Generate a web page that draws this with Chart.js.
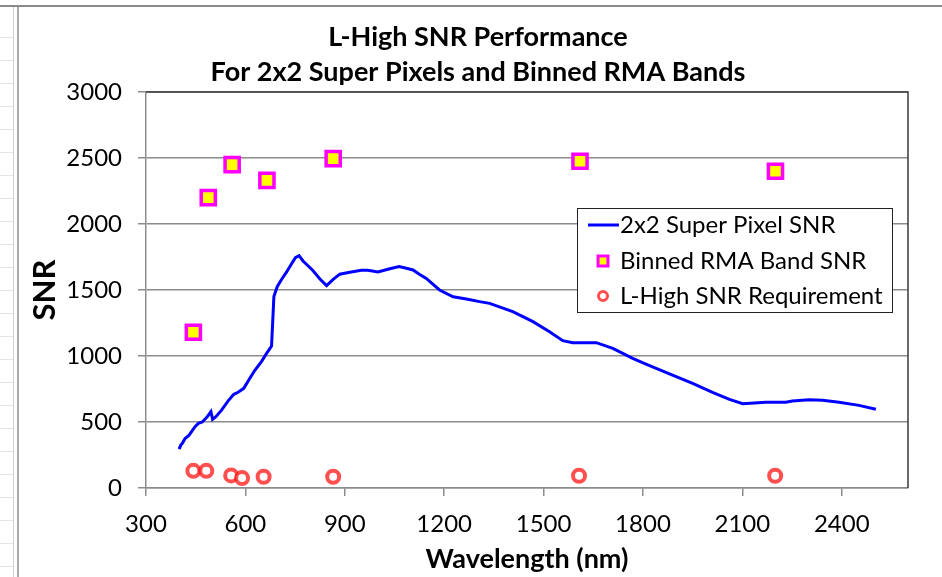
<!DOCTYPE html>
<html>
<head>
<meta charset="utf-8">
<script src="https://cdn.jsdelivr.net/npm/chart.js@4.4.1/dist/chart.umd.min.js"></script>
<style>
  html, body { margin: 0; padding: 0; background: #fff; }
  #wrap { position: relative; width: 942px; height: 577px; overflow: hidden; }
  .topline { position: absolute; left: 0; top: 5px; width: 942px; height: 2px; background: #8a8a8a; }
  .rows { position: absolute; left: 0; top: 15px; width: 13px; height: 562px;
          background: repeating-linear-gradient(to bottom, transparent 0, transparent 22px, #e4e4e4 22px, #e4e4e4 23px); }
  .vline1 { position: absolute; left: 13px; top: 7px; width: 1px; height: 570px; background: #cfcfcf; }
  .vline2 { position: absolute; left: 17px; top: 7px; width: 2px; height: 570px; background: #a8a8a8; }
  canvas { position: absolute; left: 0; top: 0; }
</style>
</head>
<body>
<div id="wrap">
  <div class="topline"></div>
  <div class="rows"></div>
  <div class="vline1"></div>
  <div class="vline2"></div>
  <canvas id="c" width="942" height="577"></canvas>
</div>
<script>
// values
const lineWl  = [400, 405, 410, 418, 430, 448, 458, 470, 485, 496, 501, 511, 528, 548, 565, 578, 595, 613, 628, 649, 664, 679,
                 686, 696, 709, 724, 739, 751, 762, 774, 803, 825, 845, 865, 885, 915, 950, 970, 1000, 1036, 1064, 1086,
                 1106, 1125, 1146, 1186, 1227, 1267, 1307, 1337, 1407, 1468, 1518, 1558, 1588, 1659, 1709, 1769, 1809,
                 1880, 1950, 2010, 2061, 2101, 2171, 2231, 2251, 2302, 2342, 2392, 2452, 2503];
const lineSnr = [295, 325, 340, 375, 400, 465, 490, 500, 540, 578, 520, 540, 590, 660, 710, 725, 755, 830, 890, 960, 1020, 1075,
                 1450, 1525, 1580, 1635, 1697, 1745, 1760, 1720, 1650, 1583, 1533, 1581, 1620, 1634, 1649, 1649, 1636, 1661, 1677, 1665,
                 1652, 1620, 1588, 1500, 1449, 1432, 1412, 1399, 1336, 1260, 1184, 1116, 1101, 1101, 1058, 982, 939,
                 864, 793, 725, 672, 638, 649, 649, 659, 669, 664, 649, 626, 596];

const bandWl  = [443, 488, 560, 665, 865, 1610, 2200];
const bandSnr = [1180, 2200, 2450, 2330, 2495, 2475, 2400];

const reqWl  = [443, 482, 557, 590, 655, 865, 1607, 2199];
const reqSnr = [130, 130, 95, 75, 85, 85, 93, 93];

const titleLines = ['L-High SNR Performance', 'For 2x2 Super Pixels and Binned RMA Bands'];
const seriesNames = ['2x2 Super Pixel SNR', 'Binned RMA Band SNR', 'L-High SNR Requirement'];

const FONT = 'Lato, "Noto Sans", sans-serif';

const toPts = (xs, ys) => xs.map((x, i) => ({ x: x, y: ys[i] }));

// plot border (top/right) and the boxed legend inside the plot
const boxLegend = {
  id: 'boxLegend',
  beforeDatasetsDraw(chart) {
    const { ctx, chartArea: a } = chart;
    ctx.save();
    ctx.strokeStyle = '#3a3a3a';
    ctx.lineWidth = 1.5;
    ctx.beginPath();
    ctx.moveTo(a.left, a.top);
    ctx.lineTo(a.right, a.top);
    ctx.lineTo(a.right, a.bottom);
    ctx.stroke();
    ctx.restore();
  },
  afterDraw(chart) {
    const { ctx, chartArea: a } = chart;
    const ds = chart.data.datasets;
    const bx = a.left + 431, by = a.top + 116, bw = 315, bh = 104;
    ctx.save();
    ctx.fillStyle = '#fff';
    ctx.fillRect(bx, by, bw, bh);
    ctx.strokeStyle = '#222';
    ctx.lineWidth = 1;
    ctx.strokeRect(bx + 0.5, by + 0.5, bw, bh);

    const rowY = [by + 17, by + 53, by + 88];
    const sx = bx + 26, tx = bx + 43;

    ctx.strokeStyle = ds[0].borderColor;
    ctx.lineWidth = 3;
    ctx.beginPath();
    ctx.moveTo(bx + 11, rowY[0]);
    ctx.lineTo(bx + 42, rowY[0]);
    ctx.stroke();

    ctx.fillStyle = ds[1].backgroundColor;
    ctx.strokeStyle = ds[1].borderColor;
    ctx.lineWidth = 3;
    Chart.helpers.drawPoint(ctx, { pointStyle: 'rect', radius: 7, borderWidth: 3 }, sx, rowY[1]);

    ctx.fillStyle = ds[2].backgroundColor;
    ctx.strokeStyle = ds[2].borderColor;
    ctx.lineWidth = 3;
    Chart.helpers.drawPoint(ctx, { pointStyle: 'circle', radius: 4.5, borderWidth: 3 }, sx, rowY[2]);

    ctx.fillStyle = '#000';
    ctx.font = '24px ' + FONT;
    ctx.textBaseline = 'middle';
    ctx.textAlign = 'left';
    ds.forEach((d, i) => ctx.fillText(d.label, tx, rowY[i]));
    ctx.restore();
  }
};

new Chart(document.getElementById('c'), {
  type: 'scatter',
  data: {
    datasets: [
      { label: seriesNames[0], data: toPts(lineWl, lineSnr), showLine: true, borderColor: '#0000ff',
        backgroundColor: '#0000ff', borderWidth: 3, pointRadius: 0, tension: 0 },
      { label: seriesNames[1], data: toPts(bandWl, bandSnr), pointStyle: 'rect', pointRadius: 10,
        borderColor: '#ff00ff', backgroundColor: '#ffff00', borderWidth: 3.5 },
      { label: seriesNames[2], data: toPts(reqWl, reqSnr), pointStyle: 'circle', pointRadius: 6,
        borderColor: 'rgba(255,20,20,0.75)', backgroundColor: '#ffffff', borderWidth: 4 }
    ]
  },
  options: {
    responsive: false,
    animation: false,
    layout: { padding: { left: 14, right: 0, top: 0, bottom: 0 } },
    plugins: {
      legend: { display: false },
      tooltip: { enabled: false },
      title: {
        display: true, text: titleLines, color: '#000',
        font: { family: FONT, size: 27, weight: 'bold', lineHeight: 35 / 27 },
        padding: { top: 20, bottom: 2 }
      }
    },
    scales: {
      x: {
        type: 'linear', min: 300, max: 2600,
        ticks: { stepSize: 300, includeBounds: false, maxRotation: 0, color: '#000', padding: 14,
                 font: { family: FONT, size: 24 }, callback: v => String(v) },
        grid: { drawOnChartArea: false, drawTicks: true, tickLength: 8, color: '#8c8c8c', lineWidth: 1.5 },
        border: { color: '#8c8c8c', width: 1.5 },
        title: { display: true, text: 'Wavelength (nm)', color: '#000',
                 font: { family: FONT, size: 27, weight: 'bold', lineHeight: 1.2 }, padding: { top: 0, bottom: 2 } },
        afterBuildTicks: s => { s.ticks = s.ticks.filter(t => t.value <= 2400); },
        afterFit: s => { s.height = 89; }
      },
      y: {
        min: 0, max: 3000,
        ticks: { stepSize: 500, color: '#000', padding: 16, font: { family: FONT, size: 24 }, callback: v => String(v) },
        grid: { tickLength: 8, color: '#8c8c8c', lineWidth: 1.5 },
        border: { color: '#8c8c8c', width: 1.5 },
        title: { display: true, text: 'SNR', color: '#000',
                 font: { family: FONT, size: 31, weight: 'bold', lineHeight: 1.2 }, padding: { top: 12, bottom: 0 } },
        afterFit: s => { s.width = 132; }
      },
      // empty right-hand scale: only keeps the right margin without shifting the title
      yRight: {
        position: 'right', min: 0, max: 3000,
        ticks: { display: false }, grid: { display: false, drawOnChartArea: false }, border: { display: false },
        afterFit: s => { s.width = 34; }
      }
    }
  },
  plugins: [boxLegend]
});
</script>
</body>
</html>
